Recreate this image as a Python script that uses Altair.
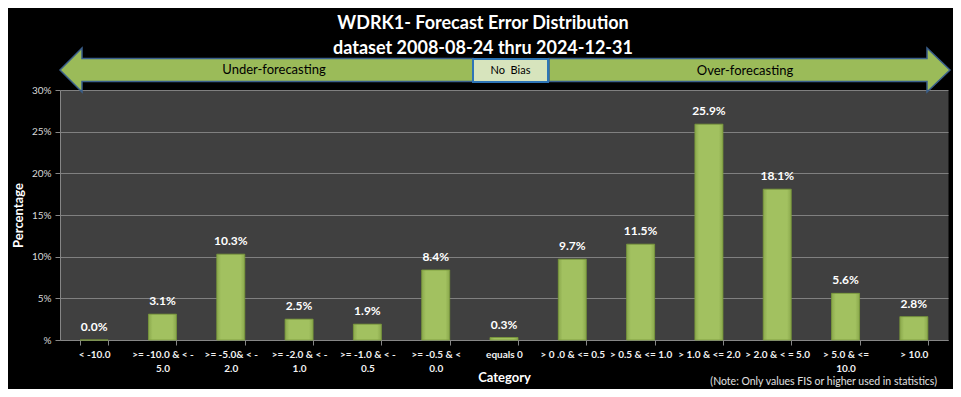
import altair as alt
import pandas as pd

# ---- data ----
categories = [
    "< -10.0", ">= -10.0 & < -|5.0", ">= -5.0& < -|2.0", ">= -2.0 & < -|1.0",
    ">= -1.0 & < -|0.5", ">= -0.5 & <|0.0", "equals 0", "> 0 .0 & <= 0.5",
    "> 0.5 & <= 1.0", "> 1.0 & <= 2.0", "> 2.0 & < = 5.0", "> 5.0 & <=|10.0", "> 10.0",
]
percentages = [0.0, 3.1, 10.3, 2.5, 1.9, 8.4, 0.3, 9.7, 11.5, 25.9, 18.1, 5.6, 2.8]
y_ticks = [0, 5, 10, 15, 20, 25, 30]
title_lines = ["WDRK1- Forecast Error Distribution", "dataset 2008-08-24  thru 2024-12-31"]
note_text = "(Note: Only values FIS or higher used in statistics)"

FONT = "Lato"
GREEN = "#9bbb59"
ARROW_EDGE = "#3a5f8b"

df = pd.DataFrame({"category": categories, "pct": percentages})
dummy = pd.DataFrame({"k": [0]})

bar_fill = alt.LinearGradient(
    gradient="linear", x1=0, x2=1, y1=0, y2=0,
    stops=[
        alt.GradientStop(offset=0, color="#8aa84c"),
        alt.GradientStop(offset=0.15, color="#a2c160"),
        alt.GradientStop(offset=0.85, color="#a2c160"),
        alt.GradientStop(offset=1, color="#8aa84c"),
    ],
)

x_enc = alt.X(
    "category:N", sort=categories,
    scale=alt.Scale(paddingInner=0.59, paddingOuter=0.295),
    axis=alt.Axis(
        title="Category", labelExpr="split(datum.label, '|')", tickBand="extent",
        labelAngle=0, labelOverlap=False, labelFont=FONT, labelFontSize=10,
        labelFontWeight="bold", labelColor="#f2f2f2", labelLineHeight=14,
        labelPadding=4, tickSize=5, tickColor="#868686", domainColor="#868686",
        titleFont=FONT, titleFontSize=13, titleFontWeight="bold", titleColor="white",
        titleY=37, titleBaseline="middle", grid=False,
    ),
)
y_enc = alt.Y(
    "pct:Q", scale=alt.Scale(domain=[0, 30]),
    axis=alt.Axis(
        values=y_ticks, labelExpr="datum.value == 0 ? '%' : datum.value + '%'",
        title="Percentage", labelFont=FONT, labelFontSize=10, labelColor="#d9d9d9",
        labelPadding=4, tickSize=5, tickColor="#868686", domainColor="#868686",
        gridColor="#808080", gridWidth=1,
        titleFont=FONT, titleFontSize=13, titleFontWeight="bold", titleColor="white",
        titleX=-42, titleBaseline="middle",
    ),
)

bars = alt.Chart(df).mark_bar(color=bar_fill, stroke="#7a9a3a", strokeWidth=0.8).encode(
    x=x_enc, y=y_enc
)
labels = alt.Chart(df).transform_calculate(
    label="format(datum.pct, '.1f') + '%'"
).mark_text(
    font=FONT, fontSize=12, fontWeight="bold", color="white", baseline="bottom", dy=-6
).encode(x=alt.X("category:N", sort=categories), y="pct:Q", text="label:N")

left_path = ("M -1 0 L -0.8935 -0.1065 L -0.8935 -0.0557 L 1 -0.0557 L 1 0.0557 "
             "L -0.8935 0.0557 L -0.8935 0.1065 Z")
right_path = ("M 1 0 L 0.8853 -0.1097 L 0.8853 -0.0574 L -1 -0.0574 L -1 0.0574 "
              "L 0.8853 0.0574 L 0.8853 0.1097 Z")

left_arrow = alt.Chart(dummy).mark_point(
    shape=left_path, filled=True, fill=GREEN, stroke=ARROW_EDGE, strokeWidth=1.5,
    opacity=1, size=413 * 413,
).encode(x=alt.value(206.5), y=alt.value(-20))
right_arrow = alt.Chart(dummy).mark_point(
    shape=right_path, filled=True, fill=GREEN, stroke=ARROW_EDGE, strokeWidth=1.5,
    opacity=1, size=401 * 401,
).encode(x=alt.value(689.5), y=alt.value(-20))
nobias_box = alt.Chart(dummy).mark_rect(
    fill="#d7e4bd", stroke="#2e75b6", strokeWidth=2
).encode(x=alt.value(413), x2=alt.value(488), y=alt.value(-31), y2=alt.value(-8))

under_txt = alt.Chart(dummy).mark_text(
    text="Under-forecasting", font=FONT, fontSize=13, color="black"
).encode(x=alt.value(214), y=alt.value(-20))
over_txt = alt.Chart(dummy).mark_text(
    text="Over-forecasting", font=FONT, fontSize=13, color="black"
).encode(x=alt.value(685), y=alt.value(-19))
nobias_txt = alt.Chart(dummy).mark_text(
    text="No\u00a0 Bias", font=FONT, fontSize=11, color="black"
).encode(x=alt.value(450.5), y=alt.value(-19.5))
note = alt.Chart(dummy).mark_text(
    text=note_text, font=FONT, fontSize=10.5, color="#e0e0e0", align="right"
).encode(x=alt.value(877), y=alt.value(292))

chart = alt.layer(
    bars, labels, left_arrow, right_arrow, nobias_box, under_txt, over_txt, nobias_txt, note
).properties(
    width=888, height=250,
    autosize=alt.AutoSizeParams(type="none"),
    padding={"left": 52, "top": 82, "right": 5, "bottom": 49},
    background="black",
    title=alt.TitleParams(
        text=title_lines, color="white", fontSize=18, font=FONT, fontWeight="bold",
        anchor="middle", frame="group", dx=-21, offset=-31, baseline="bottom",
        lineHeight=25,
    ),
).configure_view(fill="#404040", stroke="transparent")

chart.save("out.html", embed_options={"renderer": "svg", "actions": False})
